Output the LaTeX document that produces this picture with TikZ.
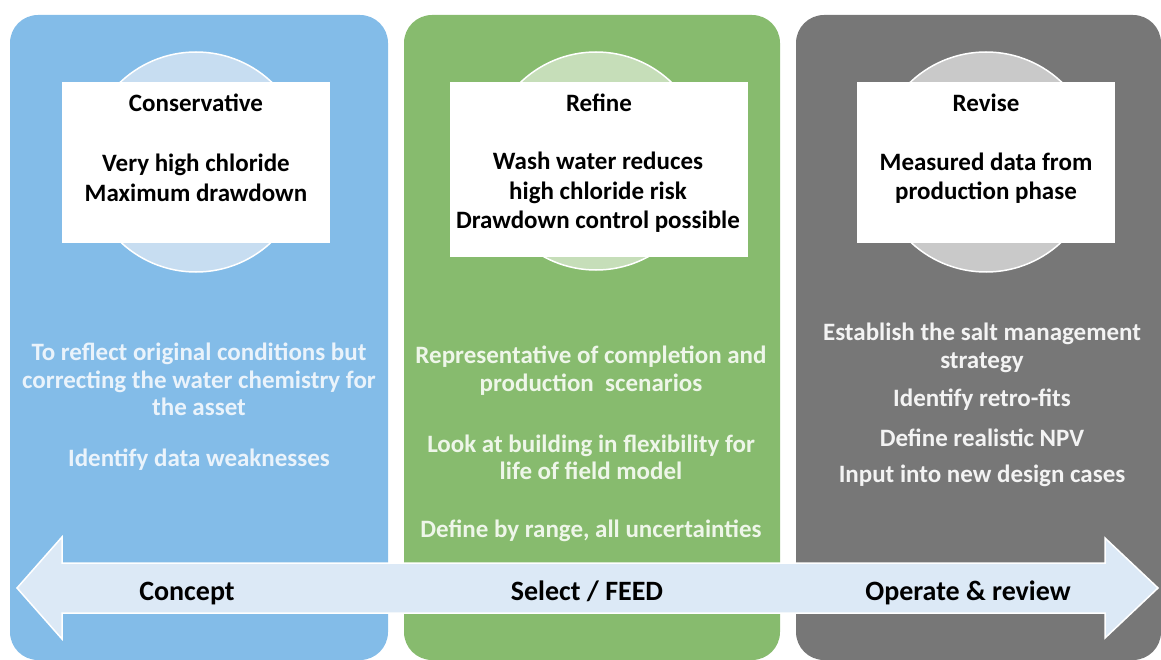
\documentclass[tikz,border=0pt]{standalone}
\usepackage{fontspec}
\setmainfont{Carlito}
\usepackage{tikz}
\usetikzlibrary{arrows.meta,calc,positioning}
\definecolor{conceptblue}{RGB}{131,188,232}
\definecolor{selectgreen}{RGB}{135,187,110}
\definecolor{operategray}{RGB}{119,119,119}
\definecolor{lensblue}{RGB}{199,221,241}
\definecolor{lensgreen}{RGB}{198,222,185}
\definecolor{lensgray}{RGB}{201,201,201}
\definecolor{arrowfill}{RGB}{220,233,246}
\definecolor{noteblue}{RGB}{234,243,251}
\definecolor{notegreen}{RGB}{238,246,233}
\definecolor{notegray}{RGB}{243,243,243}

\begin{document}
\begin{tikzpicture}[x=1pt,y=-1pt,
    panel/.style={rounded corners=28pt},
    lens/.style={draw=white,line width=1.5pt},
    card/.style={fill=white},
    cardtitle/.style={font=\bfseries\fontsize{25}{29.5}\selectfont,align=center,inner sep=0pt},
    cardtext/.style={font=\bfseries\fontsize{25}{29.5}\selectfont,align=center,inner sep=0pt},
    note/.style={font=\bfseries\fontsize{25}{27.5}\selectfont,align=center,inner sep=0pt},
    stage/.style={font=\bfseries\fontsize{28}{32}\selectfont,inner sep=0pt,anchor=base}]
  \useasboundingbox (0,0) rectangle (1161,660);

  % three phase panels
  \fill[conceptblue,panel] (10,15) rectangle (388,660);
  \fill[selectgreen,panel] (404,15) rectangle (780,660);
  \fill[operategray,panel] (796,15) rectangle (1161,660);

  % lenses behind the cards
  \filldraw[lens,fill=lensblue] (196,162) circle[radius=110pt];
  \filldraw[lens,fill=lensgreen] (596,161) circle[radius=109pt];
  \filldraw[lens,fill=lensgray] (986,162) circle[radius=110pt];

  % white cards
  \fill[card] (62,82) rectangle (330,243);
  \fill[card] (450,82) rectangle (748,257);
  \fill[card] (857,82) rectangle (1115,243);

  \node[cardtitle] (conservative) at (196,103) {Conservative};
  \node[cardtext] (chloride) at (196,178) {Very high chloride\\Maximum drawdown};
  \node[cardtitle] (refine) at (599,103) {Refine};
  \node[cardtext] (washwater) at (598,192.5) {Wash water reduces\\high chloride risk\\Drawdown control possible};
  \node[cardtitle] (revise) at (986,103) {Revise};
  \node[cardtext] (measured) at (986,178) {Measured data from\\production phase};

  % panel notes
  \node[note,text=noteblue] (reflect) at (199,379.5) {To reflect original conditions but\\correcting the water chemistry for\\the asset};
  \node[note,text=noteblue] (weak) at (199,460) {Identify data weaknesses};

  \node[note,text=notegreen] (represent) at (591,370.5) {Representative of completion and\\production~ scenarios};
  \node[note,text=notegreen] (flex) at (591,457.5) {Look at building in flexibility for\\life of field model};
  \node[note,text=notegreen] (range) at (591,531) {Define by range, all uncertainties};

  \node[note,text=notegray] (salt) at (982,348) {Establish the salt management\\strategy};
  \node[note,text=notegray] (retro) at (982,400) {Identify retro-fits};
  \node[note,text=notegray] (npv) at (982,438) {Define realistic NPV};
  \node[note,text=notegray] (cases) at (982,476) {Input into new design cases};

  % timeline arrow
  \filldraw[fill=arrowfill,draw=white,line width=1.5pt,line join=miter]
    (17,588) -- (62,537) -- (62,563) -- (1105,563) -- (1105,538)
    -- (1158,588) -- (1105,638) -- (1105,613) -- (62,613) -- (62,639) -- cycle;

  \node[stage] (concept) at (187,600) {Concept};
  \node[stage] (select) at (587,600) {Select / FEED};
  \node[stage] (operate) at (968,600) {Operate \& review};
\end{tikzpicture}
\end{document}
